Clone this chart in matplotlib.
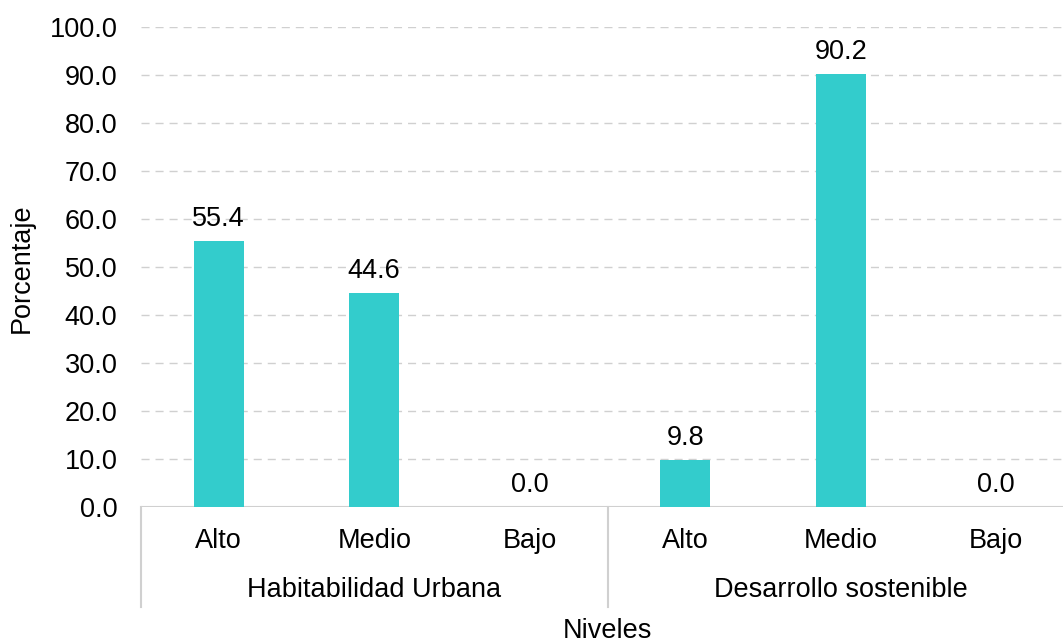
import matplotlib
matplotlib.use("Agg")
import matplotlib.pyplot as plt
from matplotlib.ticker import FormatStrFormatter

plt.rcParams['font.family'] = ['Liberation Sans', 'DejaVu Sans']

categories = ["Alto", "Medio", "Bajo", "Alto", "Medio", "Bajo"]
groups = ["Habitabilidad Urbana", "Desarrollo sostenible"]
values = [55.4, 44.6, 0.0, 9.8, 90.2, 0.0]
yticks = [0, 10, 20, 30, 40, 50, 60, 70, 80, 90, 100]

W, H = 1063, 643
fig = plt.figure(figsize=(W / 100, H / 100), dpi=100)
left_px, right_px, top_px, bottom_px = 141, 1063, 27, 507
ax = fig.add_axes([left_px / W, 1 - bottom_px / H,
                   (right_px - left_px) / W, (bottom_px - top_px) / H])

FS = 19.5
bar_color = "#33CCCC"
grid_color = "#D0D0D0"
slot_px = 155.5

x = list(range(len(categories)))
ax.bar(x, values, width=0.32, color=bar_color, zorder=3)
for xi, v in zip(x, values):
    ax.annotate(f"{v:.1f}", (xi, v), xytext=(0, 9), textcoords="offset pixels",
                ha="center", va="bottom", fontsize=FS, color="#000000", zorder=4)

ax.set_xlim(-0.5, -0.5 + (right_px - left_px) / slot_px)
ax.set_ylim(0, 100)
ax.set_yticks(yticks)
ax.yaxis.set_major_formatter(FormatStrFormatter("%.1f"))
ax.tick_params(axis="y", length=0, pad=17, labelsize=FS, colors="#000000")
ax.set_xticks([])
for s in ax.spines.values():
    s.set_visible(False)

for t in yticks[1:]:
    ax.axhline(t, color=grid_color, lw=1.0, linestyle=(0, (5.8, 4.3)), zorder=1)
ax.axhline(0, color=grid_color, lw=1.5, zorder=2)

tr = ax.get_xaxis_transform()
ax_h = bottom_px - top_px
def yf(py):
    return (bottom_px - py) / ax_h

for xv in [-0.5, 2.5, 5.5]:
    ax.plot([xv, xv], [0, yf(607)], transform=tr, color=grid_color, lw=1.5,
            clip_on=False, zorder=2)

for xi, c in zip(x, categories):
    ax.text(xi, yf(541), c, transform=tr, ha="center", va="center", fontsize=FS)
for gi, g in enumerate(groups):
    ax.text(gi * 3 + 1, yf(590), g, transform=tr, ha="center", va="center", fontsize=FS)
ax.text(2.5, yf(631), "Niveles", transform=tr, ha="center", va="center", fontsize=FS)

fig.text(22 / W, 1 - 268 / H, "Porcentaje", rotation=90, ha="center", va="center",
         fontsize=FS)

fig.savefig("out.png", dpi=100)
